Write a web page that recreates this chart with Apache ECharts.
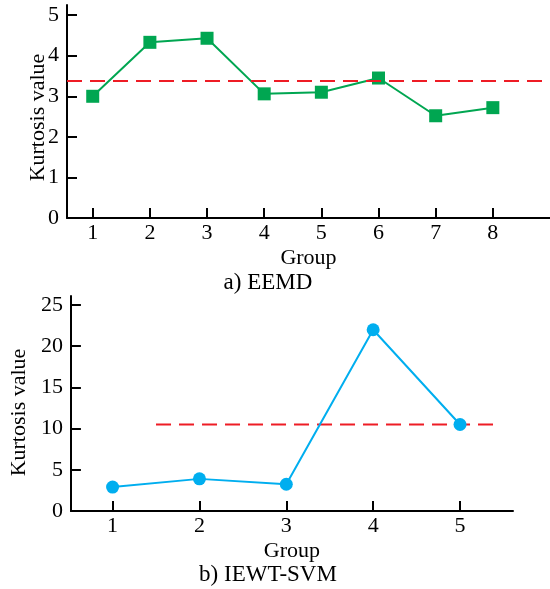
<!DOCTYPE html>
<html><head><meta charset="utf-8">
<script src="https://cdn.jsdelivr.net/npm/echarts@6/dist/echarts.min.js"></script>
<style>html,body{margin:0;padding:0;background:#fff}#c{width:550px;height:589px}</style>
</head><body><div id="c"></div>
<script>
// Panel a) EEMD
const groupsA = [1, 2, 3, 4, 5, 6, 7, 8];
const kurtA = [3.0, 4.33, 4.43, 3.06, 3.1, 3.45, 2.52, 2.72];
const thresholdA = 3.39;
const yTicksA = [0, 1, 2, 3, 4, 5];
// Panel b) IEWT-SVM
const groupsB = [1, 2, 3, 4, 5];
const kurtB = [2.9, 3.9, 3.25, 22.0, 10.5];
const thresholdB = 10.5;
const thresholdBRange = [1.5, 5.4];
const yTicksB = [0, 5, 10, 15, 20, 25];

const FONT = '"Liberation Serif", "DejaVu Serif", serif';
const chart = echarts.init(document.getElementById('c'), null, {renderer: 'canvas'});

function xAxisCfg(gi, min, max, vals) {
  return {
    type: 'value', gridIndex: gi, min: min, max: max,
    name: 'Group', nameLocation: 'middle', nameGap: 29,
    nameTextStyle: {fontFamily: FONT, fontSize: 22, color: '#000'},
    axisLine: {show: true, onZero: false, lineStyle: {color: '#000', width: 2}},
    axisTick: {show: true, inside: true, length: 10, customValues: vals, lineStyle: {color: '#000', width: 2}},
    axisLabel: {customValues: vals, fontFamily: FONT, fontSize: 22, color: '#000', margin: 4},
    splitLine: {show: false}
  };
}
function yAxisCfg(gi, min, max, vals, gap, moveOverlap, padRight) {
  return {
    type: 'value', gridIndex: gi, min: min, max: max,
    name: 'Kurtosis value', nameLocation: 'middle', nameGap: gap,
    nameMoveOverlap: moveOverlap,
    nameTextStyle: {fontFamily: FONT, fontSize: 22, color: '#000', padding: [0, padRight, 0, 0]},
    axisLine: {show: true, onZero: false, lineStyle: {color: '#000', width: 2}},
    axisTick: {show: true, inside: true, length: 10, customValues: vals, lineStyle: {color: '#000', width: 2}},
    axisLabel: {customValues: vals, fontFamily: FONT, fontSize: 22, color: '#000', margin: 8},
    splitLine: {show: false}
  };
}

chart.setOption({
  animation: false,
  backgroundColor: '#fff',
  grid: [
    {left: 67, right: 0, top: 5, height: 213},
    {left: 61, width: 452, top: 296, height: 215}
  ],
  xAxis: [
    xAxisCfg(0, 0.55, 9.0, groupsA),
    xAxisCfg(1, 0.52, 5.61, groupsB)
  ],
  yAxis: [
    yAxisCfg(0, 0, 5.25, yTicksA, 18, false, 12),
    yAxisCfg(1, 0, 26.1, yTicksB, 30, true, 18)
  ],
  series: [
    {
      type: 'line', xAxisIndex: 0, yAxisIndex: 0,
      data: groupsA.map((g, i) => [g, kurtA[i]]),
      symbol: 'rect', symbolSize: 13,
      lineStyle: {color: '#00A651', width: 2},
      itemStyle: {color: '#00A651'},
      markLine: {
        silent: true, symbol: 'none', label: {show: false},
        lineStyle: {color: '#EE1C25', width: 2, type: [15, 8]},
        data: [{yAxis: thresholdA}]
      },
      z: 3
    },
    {
      type: 'line', xAxisIndex: 1, yAxisIndex: 1,
      data: thresholdBRange.map(x => [x, thresholdB]),
      symbol: 'none',
      lineStyle: {color: '#EE1C25', width: 2, type: [15, 8]},
      z: 2
    },
    {
      type: 'line', xAxisIndex: 1, yAxisIndex: 1,
      data: groupsB.map((g, i) => [g, kurtB[i]]),
      symbol: 'circle', symbolSize: 13,
      lineStyle: {color: '#00AEEF', width: 2},
      itemStyle: {color: '#00AEEF'},
      z: 3
    }
  ],
  graphic: [
    {type: 'text', x: 268, y: 283, style: {text: 'a) EEMD', font: '23px ' + FONT, fill: '#000', textAlign: 'center', textVerticalAlign: 'middle'}},
    {type: 'text', x: 268, y: 575, style: {text: 'b) IEWT-SVM', font: '23px ' + FONT, fill: '#000', textAlign: 'center', textVerticalAlign: 'middle'}}
  ]
});
</script></body></html>
